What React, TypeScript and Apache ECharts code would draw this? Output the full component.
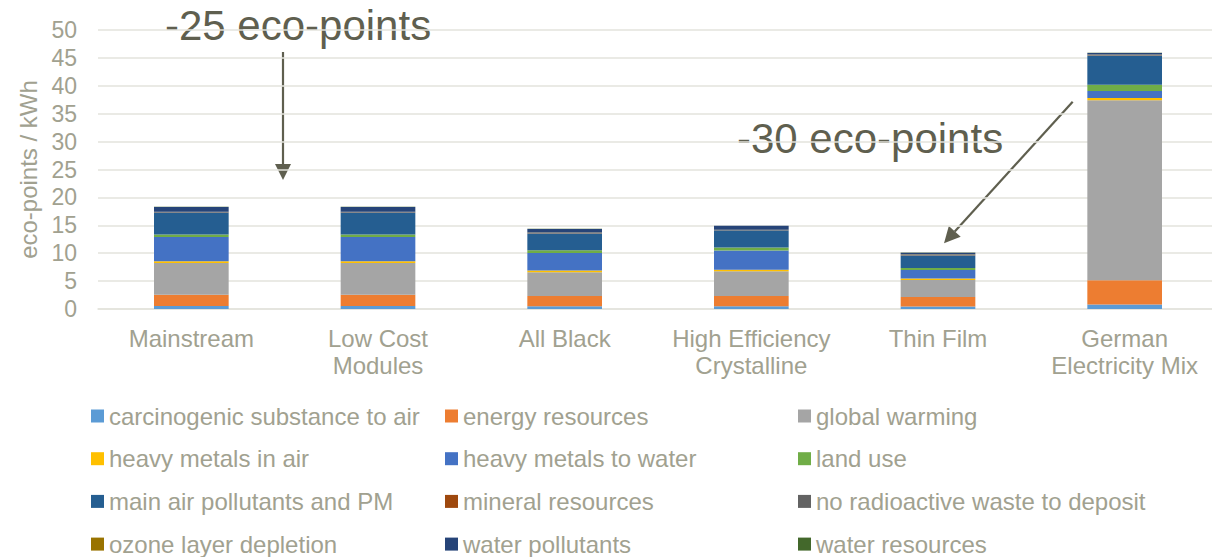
import React, { useEffect, useRef } from "react";
import * as echarts from "echarts";

const categories = [
  "Mainstream",
  "Low Cost\nModules",
  "All Black",
  "High Efficiency\nCrystalline",
  "Thin Film",
  "German\nElectricity Mix",
];

const carcinogenic = [0.55, 0.55, 0.5, 0.5, 0.45, 0.8];
const energyResources = [2.0, 2.0, 1.85, 1.85, 1.7, 4.35];
const globalWarming = [5.7, 5.7, 4.25, 4.4, 3.05, 32.25];
const heavyMetalsAir = [0.3, 0.3, 0.3, 0.3, 0.25, 0.4];
const heavyMetalsWater = [4.35, 4.35, 3.15, 3.45, 1.55, 1.25];
const landUse = [0.45, 0.45, 0.5, 0.5, 0.35, 1.15];
const mainAir = [3.95, 3.95, 3.0, 3.05, 2.25, 5.2];
const mineralResources = [0.03, 0.03, 0.03, 0.03, 0.03, 0.03];
const noRadioactive = [0.1, 0.1, 0.1, 0.1, 0.15, 0.15];
const ozoneDepletion = [0.02, 0.02, 0.02, 0.02, 0.02, 0.02];
const waterPollutants = [0.85, 0.85, 0.65, 0.7, 0.3, 0.3];
const waterResources = [0.03, 0.03, 0.03, 0.03, 0.03, 0.03];

const seriesDefs = [
  { name: "carcinogenic substance to air", data: carcinogenic, color: "#5B9BD5" },
  { name: "energy resources", data: energyResources, color: "#ED7D31" },
  { name: "global warming", data: globalWarming, color: "#A5A5A5" },
  { name: "heavy metals in air", data: heavyMetalsAir, color: "#FFC000" },
  { name: "heavy metals to water", data: heavyMetalsWater, color: "#4472C4" },
  { name: "land use", data: landUse, color: "#70AD47" },
  { name: "main air pollutants and PM", data: mainAir, color: "#255E91" },
  { name: "mineral resources", data: mineralResources, color: "#9E480E" },
  { name: "no radioactive waste to deposit", data: noRadioactive, color: "#636363" },
  { name: "ozone layer depletion", data: ozoneDepletion, color: "#997300" },
  { name: "water pollutants", data: waterPollutants, color: "#264478" },
  { name: "water resources", data: waterResources, color: "#43682B" },
];

const legendColumns = [
  ["carcinogenic substance to air", "heavy metals in air", "main air pollutants and PM", "ozone layer depletion"],
  ["energy resources", "heavy metals to water", "mineral resources", "water pollutants"],
  ["global warming", "land use", "no radioactive waste to deposit", "water resources"],
];
const legendLefts = [91, 445, 798];

const TEXT = "#a1a190";
const DARK = "#5f5f4f";
const FONT = "Liberation Sans, Arial, sans-serif";

function arrow(x1: number, y1: number, x2: number, y2: number) {
  const dx = x2 - x1;
  const dy = y2 - y1;
  const len = Math.sqrt(dx * dx + dy * dy);
  const ux = dx / len;
  const uy = dy / len;
  const head = 16;
  const half = 8;
  const bx = x2 - ux * head;
  const by = y2 - uy * head;
  return [
    {
      type: "line",
      shape: { x1, y1, x2: bx, y2: by },
      style: { stroke: DARK, lineWidth: 2.2 },
      silent: true,
    },
    {
      type: "polygon",
      shape: {
        points: [
          [x2, y2],
          [bx - uy * half, by + ux * half],
          [bx + uy * half, by - ux * half],
        ],
      },
      style: { fill: DARK },
      silent: true,
    },
  ];
}

export default function App() {
  const ref = useRef<HTMLDivElement>(null);
  useEffect(() => {
    if (!ref.current) return;
    const chart = echarts.init(ref.current, undefined, { renderer: "svg" });
    chart.setOption({
      animation: false,
      textStyle: { fontFamily: FONT },
      grid: { left: 98, top: 30, width: 1120, bottom: 248, containLabel: false },
      xAxis: {
        type: "category",
        data: categories,
        axisTick: { show: false },
        axisLine: { lineStyle: { color: "#e3e3dc", width: 1.5 } },
        axisLabel: {
          color: TEXT,
          fontSize: 24,
          lineHeight: 27,
          margin: 16,
          interval: 0,
          fontFamily: FONT,
        },
      },
      yAxis: {
        type: "value",
        min: 0,
        max: 50,
        interval: 5,
        name: "eco-points / kWh",
        nameLocation: "middle",
        nameGap: 54,
        nameTextStyle: { color: TEXT, fontSize: 24, fontFamily: FONT },
        axisLine: { show: false },
        axisTick: { show: false },
        axisLabel: { color: TEXT, fontSize: 23, margin: 21, fontFamily: FONT },
        splitLine: { lineStyle: { color: "#e3e3dc", width: 1.5 } },
      },
      legend: legendColumns.map((col, i) => ({
        data: col,
        orient: "vertical",
        left: legendLefts[i],
        top: 404,
        padding: 0,
        itemWidth: 13,
        itemHeight: 13,
        itemGap: 18.7,
        icon: "rect",
        selectedMode: false,
        textStyle: { color: TEXT, fontSize: 24, lineHeight: 24, fontFamily: FONT },
      })),
      series: seriesDefs.map((s) => ({
        name: s.name,
        type: "bar",
        stack: "total",
        barWidth: "40%",
        data: s.data,
        itemStyle: { color: s.color },
      })),
      graphic: [
        {
          type: "text",
          left: 165,
          top: 4,
          style: { text: "-25 eco-points", fill: DARK, fontSize: 42, fontFamily: FONT },
          silent: true,
        },
        {
          type: "text",
          left: 737,
          top: 117,
          style: { text: "-30 eco-points", fill: DARK, fontSize: 42, fontFamily: FONT },
          silent: true,
        },
        ...arrow(283, 52, 283, 180),
        ...arrow(1072.7, 101.7, 944, 243.3),
      ],
    });
    return () => chart.dispose();
  }, []);
  return (
    <div
      style={{
        position: "fixed",
        left: 0,
        top: 0,
        width: 1212,
        height: 557,
        overflow: "hidden",
        background: "#fff",
      }}
    >
      <div ref={ref} style={{ width: 1224, height: 557 }} />
    </div>
  );
}
